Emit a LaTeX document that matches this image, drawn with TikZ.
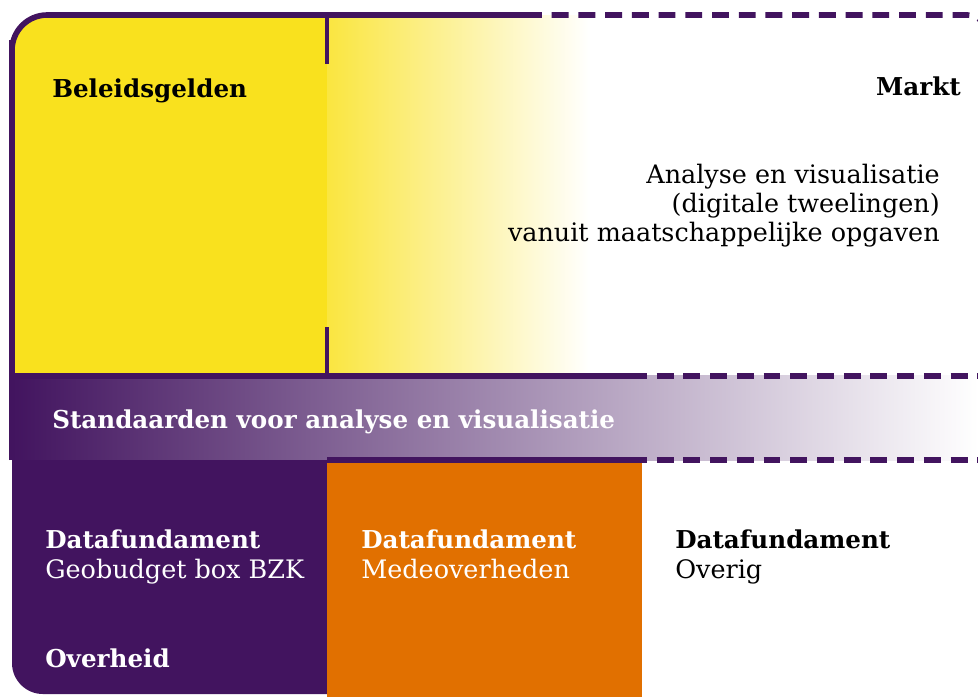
\documentclass[tikz,border=0pt]{standalone}
\usepackage{fontspec}
\setmainfont{DejaVu Serif}
\usetikzlibrary{calc}
\definecolor{rijkspaars}{HTML}{42145F}
\definecolor{rijksgeel}{HTML}{F9E11E}
\definecolor{rijksoranje}{HTML}{E17000}
\tikzset{
  kop/.style={font=\fontsize{17.5}{21}\selectfont\bfseries, inner sep=0pt},
  tekst/.style={font=\fontsize{18.1}{21}\selectfont, inner sep=0pt},
  rand/.style={rijkspaars, line width=4},
  streep/.style={rijkspaars, line width=4, dash pattern=on 12 off 7},
}

\begin{document}
\begin{tikzpicture}[x=0.025cm, y=-0.025cm]
		%%%%% START %%%%%
		\useasboundingbox (0, 0) rectangle (978, 697);
		
		% bovenste deel: beleidsgelden en markt
		\fill[rijksgeel] (327, 375) -- (12, 375) [rounded corners=25] -- (12, 15) [sharp corners] -- (327, 15) -- cycle;
		\shade[left color=rijksgeel!85, middle color=rijksgeel!12, right color=white] (327, 15) rectangle (590, 375);
		
		% middenband
		\shade[left color=rijkspaars, middle color=rijkspaars!58, right color=white] (12, 375) rectangle (978, 460);
		
		% onderste deel: datafundament
		\fill[rijkspaars] (12, 460) [rounded corners=22] -- (12, 694) [sharp corners] -- (327, 694) -- (327, 460) -- cycle;
		\fill[rijksoranje] (327, 462) rectangle (642, 697);
		
		% rand en scheidingslijnen
		\draw[rand] (12, 460) -- (12, 40);
		\draw[rand, rounded corners=25] (12, 120) -- (12, 15) -- (525, 15);
		\draw[streep, rounded corners=14] (525, 15) -- (987, 15) -- (987, 80);
		\draw[rand] (12, 376) -- (630, 376);
		\draw[streep] (630, 376) -- (980, 376);
		\draw[rand] (327, 460) -- (630, 460);
		\draw[streep] (630, 460) -- (980, 460);
		\draw[rijkspaars, line width=3] (327, 15) -- (327, 64);
		\draw[rijkspaars, line width=3] (327, 327) -- (327, 376);
		
		% teksten
		\node[kop, anchor=base west] (beleid) at (52, 97) {Beleidsgelden};
		\node[kop, anchor=base east] (markt) at (961, 95) {Markt};
		\node[tekst, anchor=base east] (analyse1) at (940, 183) {Analyse en visualisatie};
		\node[tekst, anchor=base east] (analyse2) at (940, 212) {(digitale tweelingen)};
		\node[tekst, anchor=base east] (analyse3) at (940, 241) {vanuit maatschappelijke opgaven};
		\node[kop, anchor=base west, white] (standaarden) at (52, 428) {Standaarden voor analyse en visualisatie};
		
		\node[kop, anchor=base west, white] (dfOverheid) at (45, 548) {Datafundament};
		\node[tekst, anchor=base west, white] (geobudget) at (45, 578) {Geobudget box BZK};
		\node[kop, anchor=base west, white] (overheid) at (45, 667) {Overheid};
		
		\node[kop, anchor=base west, white] (dfMede) at (361, 548) {Datafundament};
		\node[tekst, anchor=base west, white] (mede) at (361, 578) {Medeoverheden};
		
		\node[kop, anchor=base west] (dfOverig) at (675, 548) {Datafundament};
		\node[tekst, anchor=base west] (overig) at (675, 578) {Overig};
		%%%%% END %%%%%
\end{tikzpicture}
\end{document}
